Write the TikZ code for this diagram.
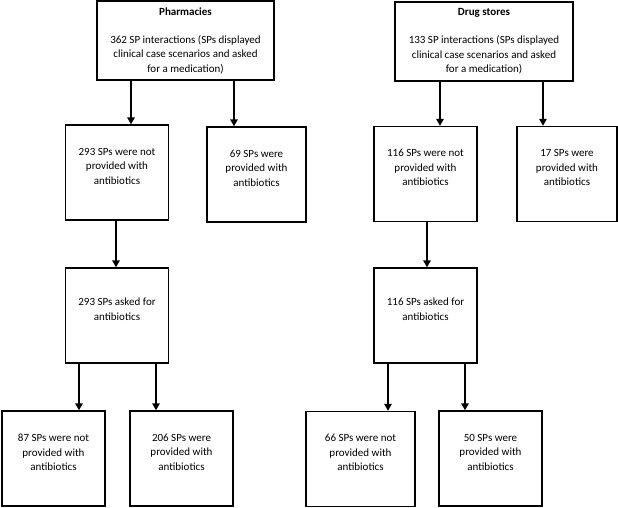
\documentclass[tikz,border=0pt]{standalone}
\usepackage{fontspec}
\setmainfont{Carlito}
\usetikzlibrary{arrows.meta}

\begin{document}
\begin{tikzpicture}[x=1pt,y=-1pt,
	box/.style={draw,line width=1.4pt,align=center,minimum width=103pt,minimum height=95pt,inner sep=2pt,font=\fontsize{11}{14.5}\selectfont},
	arr/.style={line width=1.4pt,-{Triangle[length=7pt,width=7.5pt]}}]
	\useasboundingbox (0,0) rectangle (618,507);

	\node[box,minimum width=177pt,minimum height=79pt] (ph) at (185.5,40.5)
		{\textbf{Pharmacies}\\[13.5pt]362 SP interactions (SPs displayed\\clinical case scenarios and asked\\for a medication)};
	\node[box,minimum width=178pt,minimum height=79pt] (ds) at (484,41.5)
		{\textbf{Drug stores}\\[13.5pt]133 SP interactions (SPs displayed\\clinical case scenarios and asked\\for a medication)};

	\node[box] (phN) at (117,172.5) {293 SPs were not\\provided with\\antibiotics\\[-2pt]\mbox{}};
	\node[box,minimum width=99pt] (phY) at (256.5,174.5) {69 SPs were\\provided with\\antibiotics\\[-2pt]\mbox{}};
	\node[box] (dsN) at (425.5,174) {116 SPs were not\\provided with\\antibiotics\\[-2pt]\mbox{}};
	\node[box,minimum width=100pt] (dsY) at (567,174) {17 SPs were\\provided with\\antibiotics\\[-2pt]\mbox{}};

	\node[box] (phA) at (117,315.5) {293 SPs asked for\\antibiotics\\[-2pt]\mbox{}};
	\node[box] (dsA) at (425.5,315.5) {116 SPs asked for\\antibiotics\\[-2pt]\mbox{}};

	\node[box] (phAN) at (53.5,458.5) {87 SPs were not\\provided with\\antibiotics\\[-2pt]\mbox{}};
	\node[box] (phAY) at (181.5,458.5) {206 SPs were\\provided with\\antibiotics\\[-2pt]\mbox{}};
	\node[box,minimum width=109pt] (dsAN) at (360.5,459) {66 SPs were not\\provided with\\antibiotics\\[-2pt]\mbox{}};
	\node[box] (dsAY) at (490.5,458.5) {50 SPs were\\provided with\\antibiotics\\[-2pt]\mbox{}};

	\foreach \a/\b/\s in {ph/phN/14,ph/phY/-22.5,ds/dsN/14.5,ds/dsY/-24,phN/phA/-1,dsN/dsA/1.5,
		phA/phAN/25.5,phA/phAY/-25.5,dsA/dsAN/27.5,dsA/dsAY/-25.5}
		\draw[arr] ([xshift=\s pt]\b.north |- \a.south) -- ([xshift=\s pt]\b.north);
\end{tikzpicture}
\end{document}
